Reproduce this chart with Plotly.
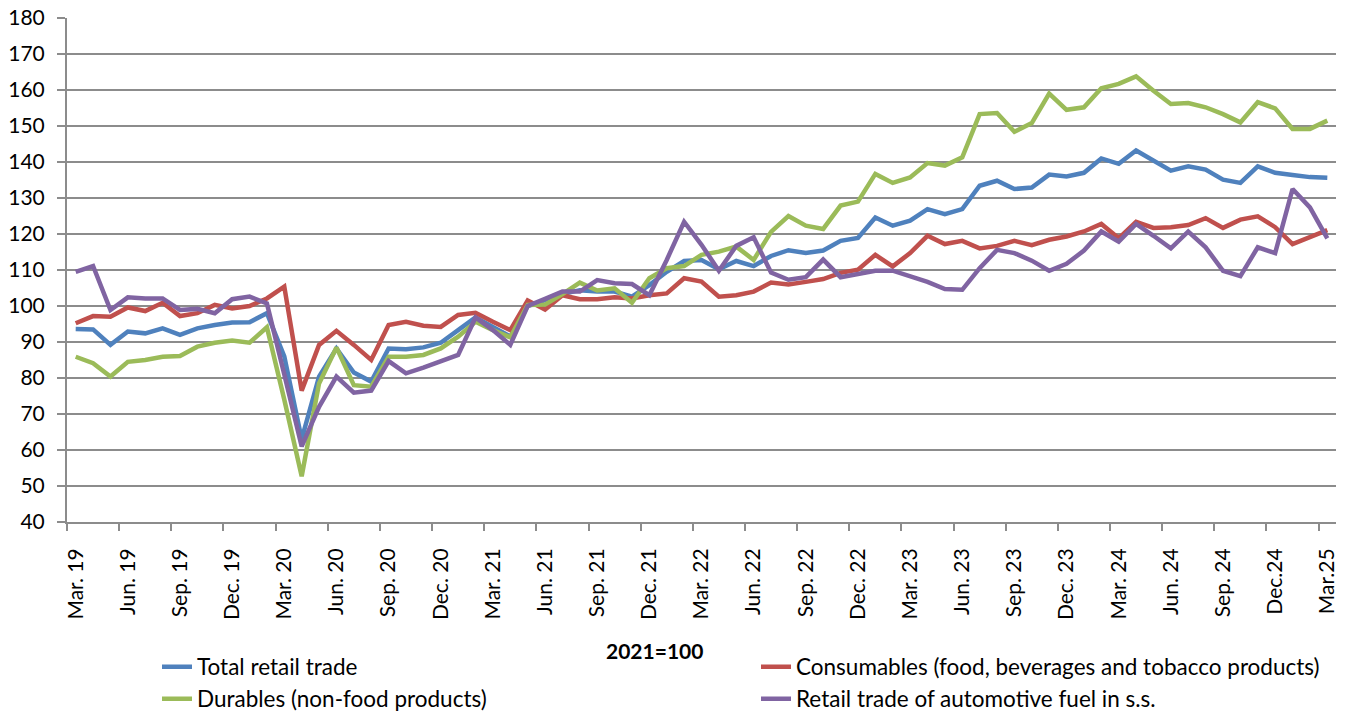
import plotly.graph_objects as go

# Months Mar.2019 .. Mar.2025 (73 monthly observations), index 2021=100
months = [f"{m} {y}" for y in range(2019, 2026) for m in
          ["Jan", "Feb", "Mar", "Apr", "May", "Jun", "Jul", "Aug", "Sep", "Oct", "Nov", "Dec"]][2:75]

tick_labels = ["Mar. 19", "Jun. 19", "Sep. 19", "Dec. 19", "Mar. 20", "Jun. 20", "Sep. 20", "Dec. 20",
               "Mar. 21", "Jun. 21", "Sep. 21", "Dec. 21", "Mar. 22", "Jun. 22", "Sep. 22", "Dec. 22",
               "Mar. 23", "Jun. 23", "Sep. 23", "Dec. 23", "Mar. 24", "Jun. 24", "Sep. 24", "Dec.24", "Mar.25"]

total_retail = [93.6, 93.5, 89.2, 92.9, 92.4, 93.8, 92.0, 93.8, 94.7, 95.4, 95.5, 98.0,
                86.0, 63.0, 80.4, 88.2, 81.5, 79.0, 88.2, 88.0, 88.5, 89.8, 93.3, 96.8,
                94.2, 91.5, 100.0, 101.5, 103.3, 104.4, 104.0, 104.0, 102.6, 105.8, 109.5, 112.5,
                112.8, 110.2, 112.5, 111.1, 113.9, 115.5, 114.7, 115.4, 118.1, 118.9, 124.6, 122.3,
                123.7, 126.9, 125.5, 126.9, 133.4, 134.8, 132.5, 132.9, 136.5, 136.0, 137.0, 141.0,
                139.5, 143.2, 140.4, 137.6, 138.8, 137.9, 135.1, 134.2, 138.8, 137.0, 136.4, 135.8,
                135.6]

consumables = [95.2, 97.2, 97.0, 99.6, 98.6, 100.9, 97.2, 98.0, 100.3, 99.3, 100.0, 102.1,
               105.4, 76.5, 89.2, 93.1, 89.2, 85.0, 94.7, 95.6, 94.5, 94.2, 97.5, 98.1,
               95.6, 93.3, 101.5, 99.0, 103.0, 101.9, 101.9, 102.4, 102.1, 103.0, 103.5, 107.7,
               106.8, 102.6, 103.0, 104.0, 106.5, 106.0, 106.7, 107.5, 109.2, 110.1, 114.2, 111.0,
               114.7, 119.5, 117.2, 118.1, 116.0, 116.7, 118.1, 116.9, 118.4, 119.3, 120.7, 122.8,
               118.8, 123.4, 121.7, 121.9, 122.5, 124.4, 121.7, 124.0, 124.9, 121.9, 117.2, 119.1,
               121.1]

durables = [85.9, 84.1, 80.4, 84.5, 85.0, 85.9, 86.1, 88.7, 89.8, 90.4, 89.8, 94.1,
            74.0, 52.7, 78.5, 88.5, 78.0, 77.6, 85.9, 85.9, 86.4, 88.2, 91.5, 95.6,
            93.3, 91.3, 100.3, 100.4, 103.3, 106.5, 104.3, 104.9, 100.9, 107.7, 110.5, 111.1,
            114.2, 115.1, 116.5, 112.8, 120.6, 125.0, 122.3, 121.4, 127.9, 129.0, 136.7, 134.2,
            135.7, 139.7, 139.0, 141.3, 153.3, 153.6, 148.4, 150.8, 159.0, 154.5, 155.2, 160.5,
            161.7, 163.8, 159.8, 156.1, 156.4, 155.2, 153.3, 151.0, 156.6, 154.9, 149.2, 149.2,
            151.5]

fuel = [109.5, 111.1, 98.9, 102.4, 102.1, 102.1, 98.9, 99.2, 98.0, 101.9, 102.6, 100.7,
        81.0, 61.0, 72.0, 80.4, 75.9, 76.5, 84.7, 81.3, 82.9, 84.7, 86.4, 96.8,
        93.3, 89.2, 100.0, 102.0, 104.0, 104.0, 107.2, 106.3, 106.1, 103.0, 112.8, 123.4,
        117.0, 109.8, 116.7, 119.1, 109.3, 107.3, 108.0, 112.9, 108.0, 108.9, 109.8, 109.8,
        108.2, 106.7, 104.7, 104.5, 110.5, 115.6, 114.7, 112.6, 109.8, 111.7, 115.4, 120.7,
        117.9, 122.8, 119.5, 116.0, 120.7, 116.3, 109.8, 108.3, 116.3, 114.7, 132.5, 127.4,
        118.8]

series_names = ["Total retail trade",
                "Consumables (food, beverages and tobacco products)",
                "Durables (non-food products)",
                "Retail trade of automotive fuel in s.s."]
series_values = [total_retail, consumables, durables, fuel]
series_colors = ["#4F81BD", "#C0504D", "#9BBB59", "#8064A2"]

# Page geometry (window 1349x711); the HTML body has a default 8px margin,
# so the figure itself is made 8px smaller and everything is placed in page pixels.
PAGE_W, PAGE_H, BODY = 1349, 711, 8
L, T, W, H = 67, 18, 1269, 504          # plot area in page pixels
FONT = "Lato"
GRID = "#8c8c8c"

# legend grid: 2 columns x 2 rows (left edge of legend box px, row centre px)
legend_cols = [157, 756]
legend_rows = [667, 699]
legend_slots = [(0, 0), (1, 0), (0, 1), (1, 1)]

x_idx = list(range(len(months)))

fig = go.Figure()
legend_layout = {}
for k, (name, vals, color) in enumerate(zip(series_names, series_values, series_colors)):
    lid = "legend" if k == 0 else f"legend{k + 1}"
    fig.add_trace(go.Scatter(
        x=x_idx, y=vals, name=name, mode="lines", text=months,
        line=dict(color=color, width=4.5), legend=lid,
        hovertemplate="%{text}: %{y}<extra>" + name + "</extra>",
    ))
    col, row = legend_slots[k]
    legend_layout[lid] = dict(
        orientation="h", xanchor="left", yanchor="middle",
        x=(legend_cols[col] - L) / W, y=-(legend_rows[row] - (T + H)) / H,
        font=dict(family=FONT, size=22.5, color="#000000"),
        bgcolor="rgba(0,0,0,0)",
    )

fig_w, fig_h = PAGE_W - BODY, PAGE_H - BODY
fig.update_layout(
    width=fig_w, height=fig_h,
    margin=dict(l=L - BODY, t=T - BODY, r=fig_w - (L - BODY) - W, b=fig_h - (T - BODY) - H,
                autoexpand=False, pad=0),
    paper_bgcolor="white", plot_bgcolor="white",
    showlegend=True,
    xaxis=dict(
        range=[-0.5, len(months) - 0.5], automargin=False,
        tickmode="array", tickvals=x_idx[::3], ticktext=tick_labels,
        tickangle=-90, ticks="outside", ticklen=7, tickcolor="rgba(0,0,0,0)",
        tickfont=dict(family=FONT, size=21, color="#000000"),
        ticklabeloverflow="allow",
        showgrid=False, zeroline=False,
        showline=True, linecolor=GRID, linewidth=2,
        minor=dict(tickmode="array", tickvals=[v - 0.5 for v in x_idx[::3]],
                   ticks="outside", ticklen=7, tickcolor=GRID, tickwidth=1.5, showgrid=False),
        ticklabelstandoff=9,
    ),
    yaxis=dict(
        range=[40, 180], dtick=10, tick0=40, automargin=False,
        ticks="outside", ticklen=8, tickcolor=GRID, tickwidth=1.5,
        tickfont=dict(family=FONT, size=21, color="#000000"),
        ticklabeloverflow="allow",
        showgrid=True, gridcolor=GRID, gridwidth=1.5,
        zeroline=False, showline=True, linecolor=GRID, linewidth=2,
        ticklabelstandoff=8,
    ),
    annotations=[dict(
        text="<b>2021=100</b>", xref="paper", yref="paper",
        x=(654 - L) / W, y=-(650 - (T + H)) / H, xanchor="center", yanchor="middle",
        showarrow=False, font=dict(family=FONT, size=21, color="#000000"),
    )],
    **legend_layout,
)

fig.write_html("out.html")
